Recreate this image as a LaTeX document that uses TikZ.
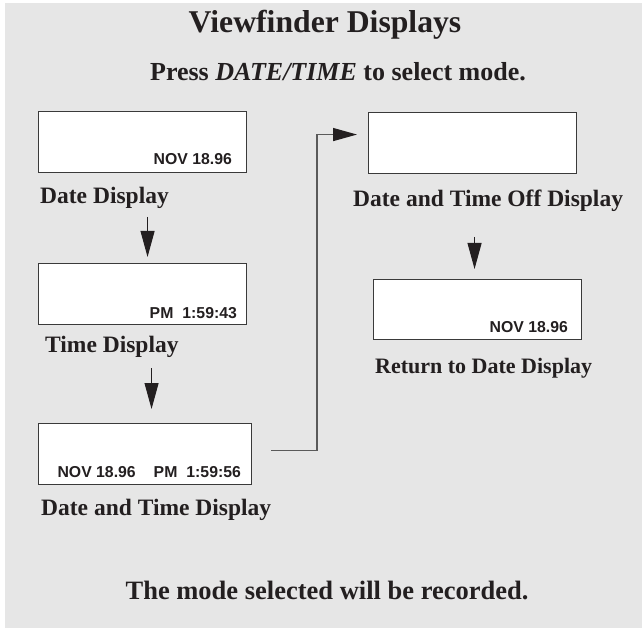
\documentclass[tikz,border=0pt]{standalone}
\usepackage{fontspec}
\setmainfont{Liberation Serif}
\newfontfamily\lcdfont{Liberation Sans}
\usetikzlibrary{arrows.meta,positioning,calc}
\definecolor{vfBack}{HTML}{E6E6E6}
\definecolor{vfLine}{HTML}{3A3A3A}
\definecolor{vfLink}{HTML}{5A5A5A}
\definecolor{vfInk}{HTML}{231F20}

\tikzset{
  screen/.style={draw=vfLine,fill=white,line width=1.1pt,minimum width=208pt,
                 minimum height=61pt,inner sep=0pt,anchor=north west},
  readout/.style={font=\lcdfont\bfseries\fontsize{15.8}{16}\selectfont,
                  text=vfInk,inner sep=0pt,anchor=base east},
  caption/.style={font=\bfseries\fontsize{23.5}{25}\selectfont,text=vfInk,
                  inner sep=0pt,anchor=base west},
  down/.style={-{Triangle[length=26pt,width=14pt]},line width=1pt,draw=vfInk},
  link/.style={-{Triangle[length=24pt,width=13pt,color=vfInk]},line width=1.4pt,
               draw=vfLink},
}

\begin{document}
\begin{tikzpicture}[x=1pt,y=-1pt]
\useasboundingbox (0,0) rectangle (642,628);
\fill[vfBack] (5,3) rectangle (642,628);

% headings
\node[font=\bfseries\fontsize{31.7}{34}\selectfont,text=vfInk,anchor=base]
  (title) at (325,33) {Viewfinder Displays};
\node[font=\bfseries\fontsize{26}{28}\selectfont,text=vfInk,anchor=base]
  (press) at (338,81) {Press \textit{DATE/TIME} to select mode.};

% left column
\node[screen] (date) at (38,111) {};
\node[readout] (dateR) at ($(date.south east)+(-15,-9)$) {NOV 18.96};
\node[caption] (dateL) at (40,204) {Date Display};

\node[screen] (time) at (38,263) {};
\node[readout] (timeR) at ($(time.south east)+(-10,-7)$) {PM\hspace{9pt}1:59:43};
\node[caption] (timeL) at (45,352) {Time Display};

\node[screen,minimum width=213pt] (both) at (38,423) {};
\node[readout] (bothR) at ($(both.south east)+(-11,-8)$)
  {NOV 18.96\hspace{18pt}PM\hspace{9pt}1:59:56};
\node[caption] (bothL) at (41,515) {Date and Time Display};

% right column
\node[screen] (off) at (368,112) {};
\node[caption] (offL) at (353,207) {Date and Time Off Display};

\node[screen,minimum height=60pt] (back) at (373,279) {};
\node[readout] (backR) at ($(back.south east)+(-14,-8)$) {NOV 18.96};
\node[caption,font=\bfseries\fontsize{22}{24}\selectfont] (backL) at (375,373)
  {Return to Date Display};

% arrows
\draw[down] ([xshift=5pt,yshift=46pt]time.north) -- ([xshift=5pt,yshift=6pt]time.north);
\draw[down] ([xshift=6.5pt,yshift=55pt]both.north) -- ([xshift=6.5pt,yshift=14pt]both.north);
\draw[down] ([xshift=-3pt,yshift=42pt]back.north) -- ([xshift=-3pt,yshift=10pt]back.north);
\draw[link] ([xshift=19pt,yshift=3.5pt]both.east) -- ++(46,0)
  |- ([xshift=-11pt,yshift=8.5pt]off.west);

\node[font=\bfseries\fontsize{26.5}{28}\selectfont,text=vfInk,anchor=base]
  (note) at (327,599) {The mode selected will be recorded.};
\end{tikzpicture}
\end{document}
